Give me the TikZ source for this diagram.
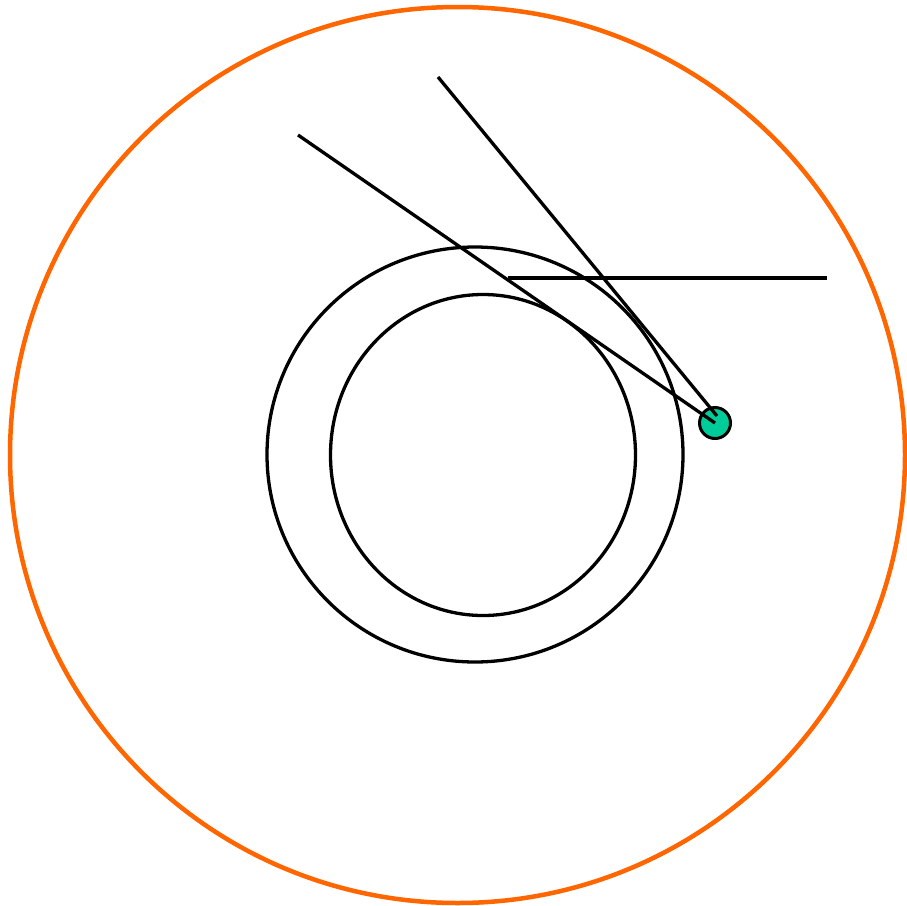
\documentclass[tikz,border=0pt]{standalone}
\usepackage{tikz}
\usepackage{xcolor}
\definecolor{rimorange}{RGB}{255,102,0}
\definecolor{satgreen}{RGB}{0,204,153}

\begin{document}
\begin{tikzpicture}[x=1pt, y=-1pt,
		ring/.style={draw=black, line width=3.3pt},
		ray/.style={draw=black, line width=3.3pt},
		rim/.style={draw=rimorange, line width=4.5pt},
		sat/.style={circle, draw=black, line width=3pt, fill=satgreen,
			minimum size=31pt, inner sep=0pt}
	]
		\useasboundingbox (0,0) rectangle (907,905);
		\draw[rim] (457.5,455) ellipse [x radius=447.5, y radius=448];
		\draw[ring] (475,454.5) ellipse [x radius=208, y radius=207.5];
		\draw[ring] (483,455) ellipse [x radius=152.5, y radius=160.5];

		\node[sat] (probe) at (715,423) {};
		\coordinate (far1) at (298,135);
		\coordinate (far2) at (438,77);
		\coordinate (hit1) at (715,423);
		\coordinate (hit2) at (717,416);
		\coordinate (hzA) at (508,278);
		\coordinate (hzB) at (827,278);

		\draw[ray] (far1) -- (hit1);
		\draw[ray] (far2) -- (hit2);
		\draw[ray] (hzA) -- (hzB);
	\end{tikzpicture}
\end{document}
